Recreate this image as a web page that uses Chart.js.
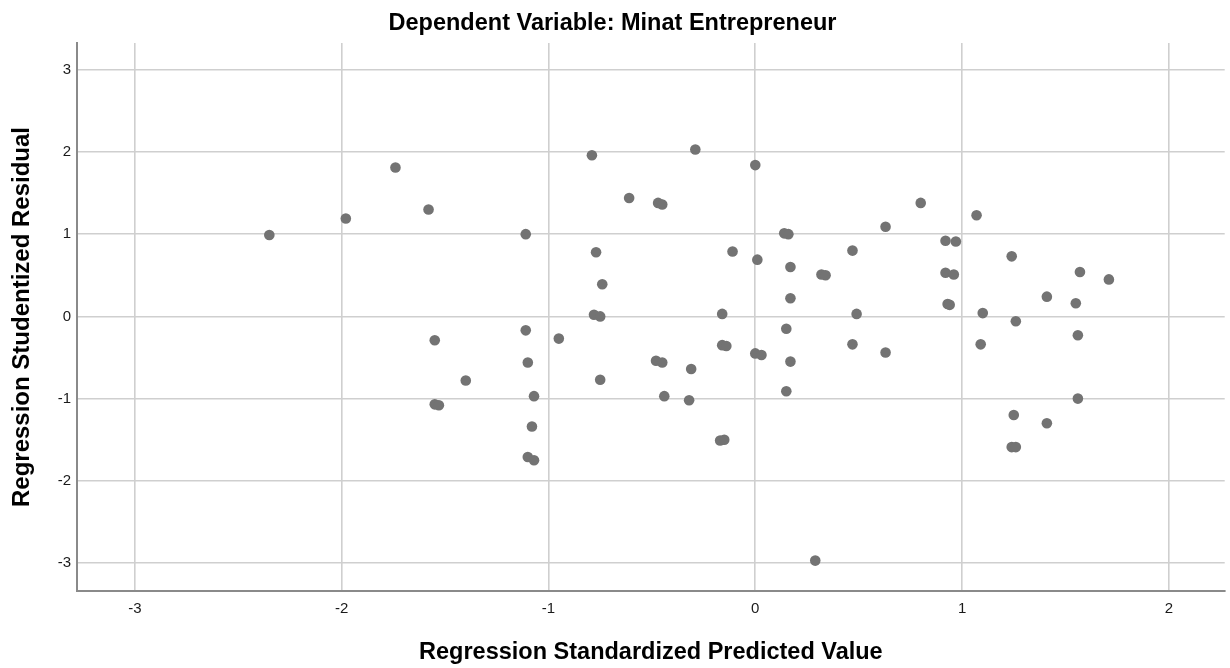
<!DOCTYPE html>
<html>
<head>
<meta charset="utf-8">
<title>Scatterplot</title>
<script src="https://cdn.jsdelivr.net/npm/chart.js@4.4.1/dist/chart.umd.min.js"></script>
<style>
  html, body { margin: 0; padding: 0; background: #ffffff; }
  #wrap { width: 1230px; height: 668px; }
</style>
</head>
<body>
<div id="wrap"><canvas id="chart" width="1230" height="668"></canvas></div>
<script>
// Regression standardized predicted values (x) and studentized residuals (y)
const predicted = [
  -2.35, -1.98, -1.74, -1.58, -0.79, -0.29, 0.00, -0.61, -0.47, -0.45,
  -1.11, 0.14, 0.16, -0.77, -0.11, 0.01, 0.17, 0.32, 0.34, -0.74,
  0.17, -0.78, -0.75, -0.16, 0.15, 0.80, 0.63, 1.07, 0.92, 0.97,
  0.47, 1.24, 0.92, 0.96, 1.57, 1.71, 1.41, 1.55, 0.93, 0.94,
  0.49, 1.10, 1.26, -1.55, -1.40, -1.55, -1.53, -1.11, -0.95, -1.10,
  -0.75, -1.07, -0.48, -0.45, -0.31, -0.44, -0.32, -0.16, -0.14, 0.00,
  0.03, 0.17, 0.15, -1.08, -1.10, -1.07, -0.17, -0.15, 0.29, 0.47,
  0.63, 1.09, 1.56, 1.56, 1.25, 1.41, 1.24, 1.26
];
const residual = [
  0.99, 1.19, 1.81, 1.30, 1.96, 2.03, 1.84, 1.44, 1.38, 1.36,
  1.00, 1.01, 1.00, 0.78, 0.79, 0.69, 0.60, 0.51, 0.50, 0.39,
  0.22, 0.02, 0.00, 0.03, -0.15, 1.38, 1.09, 1.23, 0.92, 0.91,
  0.80, 0.73, 0.53, 0.51, 0.54, 0.45, 0.24, 0.16, 0.15, 0.14,
  0.03, 0.04, -0.06, -0.29, -0.78, -1.07, -1.08, -0.17, -0.27, -0.56,
  -0.77, -0.97, -0.54, -0.56, -0.64, -0.97, -1.02, -0.35, -0.36, -0.45,
  -0.47, -0.55, -0.91, -1.34, -1.71, -1.75, -1.51, -1.50, -2.97, -0.34,
  -0.44, -0.34, -0.23, -1.00, -1.20, -1.30, -1.59, -1.59
];

// Axis tick values
const xTickValues = [-3, -2, -1, 0, 1, 2];
const yTickValues = [-3, -2, -1, 0, 1, 2, 3];

const chartTitle = 'Dependent Variable: Minat Entrepreneur';
const xAxisTitle = 'Regression Standardized Predicted Value';
const yAxisTitle = 'Regression Studentized Residual';

const FONT = "'Liberation Sans', Arial, Helvetica, sans-serif";
const GRID = '#cfcfcf';
const AXIS = '#8a8a8a';

const points = predicted.map((x, i) => ({ x: x, y: residual[i] }));

new Chart(document.getElementById('chart'), {
  type: 'scatter',
  data: {
    datasets: [{
      data: points,
      backgroundColor: '#737373',
      borderWidth: 0,
      pointRadius: 5.3,
      pointHoverRadius: 5.3
    }]
  },
  options: {
    responsive: false,
    animation: false,
    events: [],
    layout: { padding: { left: 0, right: 5, top: 0, bottom: 0 } },
    plugins: {
      legend: { display: false },
      tooltip: { enabled: false },
      title: {
        display: true,
        text: chartTitle,
        color: '#000000',
        font: { family: FONT, size: 23.5, weight: 'bold', lineHeight: 1.2 },
        padding: { top: 9, bottom: 5.8 }
      }
    },
    scales: {
      x: {
        type: 'linear',
        min: -3.28,
        max: 2.27,
        afterBuildTicks: (scale) => { scale.ticks = xTickValues.map(v => ({ value: v })); },
        afterFit: (scale) => { scale.height = 77; },
        grid: { color: GRID, lineWidth: 1.6, drawTicks: false },
        border: { display: true, color: AXIS, width: 2 },
        ticks: {
          color: '#1a1a1a',
          padding: 9,
          font: { family: FONT, size: 15, lineHeight: 1.2 },
          callback: (v) => String(v)
        },
        title: {
          display: true,
          text: xAxisTitle,
          color: '#000000',
          font: { family: FONT, size: 23.5, weight: 'bold', lineHeight: 1.2 },
          padding: { top: 0, bottom: 1 }
        }
      },
      y: {
        type: 'linear',
        min: -3.34,
        max: 3.325,
        afterBuildTicks: (scale) => { scale.ticks = yTickValues.map(v => ({ value: v })); },
        afterFit: (scale) => { scale.width = 77; },
        grid: { color: GRID, lineWidth: 1.6, drawTicks: false },
        border: { display: true, color: AXIS, width: 2 },
        ticks: {
          color: '#1a1a1a',
          padding: 6,
          font: { family: FONT, size: 15, lineHeight: 1.2 },
          callback: (v) => String(v)
        },
        title: {
          display: true,
          text: yAxisTitle,
          color: '#000000',
          font: { family: FONT, size: 24, weight: 'bold', lineHeight: 1.2 },
          padding: { top: 7.6, bottom: 0 }
        }
      }
    }
  }
});
</script>
</body>
</html>
